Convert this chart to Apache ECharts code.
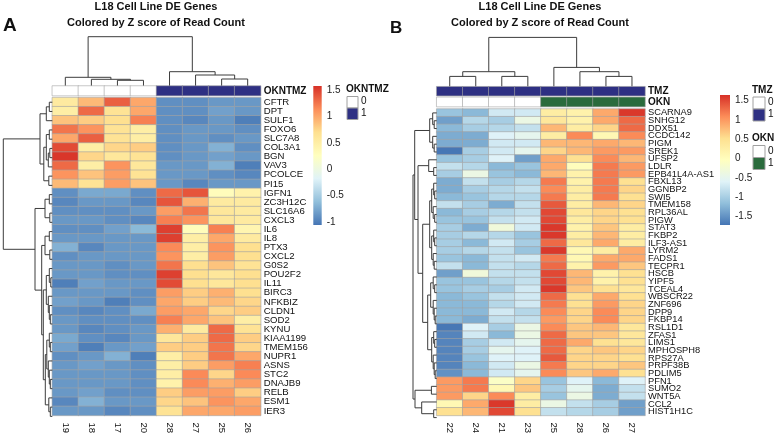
<!DOCTYPE html>
<html><head><meta charset="utf-8">
<script src="https://cdn.jsdelivr.net/npm/echarts@6/dist/echarts.min.js"></script>
<style>html,body{margin:0;padding:0;background:#fff}#c{width:775px;height:436px}</style>
</head><body><div id="c"></div>
<script>
const FONT = 'Liberation Sans, Arial, Helvetica, sans-serif';
const PALETTE = ['#4575B4','#91BFDB','#E0F3F8','#FFFFBF','#FEE090','#FC8D59','#D73027'];
const NAVY = '#2E3083';
const GREEN = '#2A6B3C';

// ---------------- Panel A ----------------
const colsA = ['19','18','17','20','28','27','25','26'];
const annotA_OKNTMZ = [0,0,0,0,1,1,1,1];
const genesA = ['CFTR','DPT','SULF1','FOXO6','SLC7A8','COL3A1','BGN','VAV3','PCOLCE','PI15',
  'IGFN1','ZC3H12C','SLC16A6','CXCL3','IL6','IL8','PTX3','CXCL2','G0S2','POU2F2','IL11',
  'BIRC3','NFKBIZ','CLDN1','SOD2','KYNU','KIAA1199','TMEM156','NUPR1','ASNS','STC2',
  'DNAJB9','RELB','ESM1','IER3'];
const zA = [
  [0.55,0.9,1.35,1.0,-0.9,-0.9,-0.85,-0.85],
  [0.5,1.3,0.65,1.0,-0.9,-0.9,-0.8,-0.85],
  [0.85,0.8,0.7,1.2,-0.9,-0.95,-0.85,-1.0],
  [1.25,1.1,0.65,0.5,-0.9,-0.85,-0.85,-0.9],
  [1.0,1.35,0.65,0.5,-0.9,-0.85,-0.9,-0.85],
  [1.45,0.5,0.75,0.8,-0.9,-0.85,-0.7,-0.9],
  [1.55,0.75,0.6,0.65,-0.9,-0.85,-0.8,-0.85],
  [1.3,0.5,1.1,0.6,-0.85,-0.85,-0.7,-1.0],
  [1.1,0.85,1.05,0.65,-0.85,-0.85,-0.9,-0.95],
  [0.9,0.65,1.05,0.85,-0.85,-0.95,-0.85,-0.85],
  [-0.9,-0.75,-0.75,-0.9,1.3,1.4,0.3,0.45],
  [-0.95,-0.85,-0.85,-0.95,1.4,0.95,0.55,0.55],
  [-0.9,-0.9,-0.9,-0.85,1.05,1.25,0.6,0.55],
  [-0.85,-0.85,-0.9,-0.95,1.2,1.1,0.6,0.55],
  [-0.9,-0.9,-0.8,-0.65,1.5,0.3,1.2,0.4],
  [-0.85,-0.85,-0.85,-0.85,1.5,0.5,1.0,0.55],
  [-0.7,-0.95,-0.85,-0.85,1.15,0.5,1.1,0.7],
  [-0.9,-0.85,-0.85,-0.85,1.1,0.5,1.05,0.7],
  [-0.85,-0.85,-0.9,-0.85,1.25,0.7,0.85,0.65],
  [-0.85,-0.85,-0.9,-0.9,1.5,0.7,0.6,0.7],
  [-1.0,-0.8,-0.85,-0.85,1.45,0.7,0.6,0.7],
  [-0.85,-0.85,-0.85,-0.9,1.05,0.8,0.95,0.7],
  [-0.8,-0.85,-1.0,-0.9,1.0,0.8,0.9,0.75],
  [-0.9,-0.95,-0.9,-0.75,1.05,1.0,0.75,0.8],
  [-0.85,-0.9,-0.9,-0.9,1.2,1.0,0.85,0.5],
  [-0.85,-0.95,-0.9,-0.85,0.95,0.55,1.3,0.65],
  [-0.75,-0.9,-0.95,-0.85,0.6,0.8,1.3,0.8],
  [-0.8,-1.0,-0.85,-0.8,0.8,0.8,1.25,0.75],
  [-0.9,-0.85,-0.7,-1.0,0.5,0.8,1.25,1.0],
  [-0.85,-0.8,-0.85,-0.9,0.5,0.8,1.05,1.2],
  [-0.85,-0.85,-0.85,-0.9,0.5,1.15,0.75,1.15],
  [-0.85,-0.85,-0.85,-0.9,0.45,1.15,0.95,1.05],
  [-0.85,-0.8,-0.9,-0.9,0.8,1.05,1.05,0.8],
  [-0.95,-0.7,-0.85,-0.85,0.75,0.85,1.1,1.0],
  [-0.85,-0.85,-0.95,-0.9,0.65,1.0,1.0,1.05]
];
const rangeA = [-1.057, 1.576];
const ticksA = [-1,-0.5,0,0.5,1,1.5];
// dendrograms: [left, right, height]; leaves = display index
const colTreeA = [[0,[1,[2,3,5.7],6.7],8.7],[4,[5,[6,7,7],11],14.3],49.3];
const rowTreeA = [
  [[[0,1,3],2,6],[[[3,4,3],[[5,6,2.5],7,4],6],[8,9,3.5],8.5],12.3],
  [[[10,11,3],[12,13,2.5],7.3],
   [[[14,15,3],[16,17,2.5],7.3],
    [[[18,[19,20,1.5],3],[21,[22,[23,24,2],3],4],6],
     [[[25,[26,27,2],3],[28,[29,[30,31,2],3],4],5.5],[32,[33,34,2],3.5],7],9],10.6],17.3],
  49];

// ---------------- Panel B ----------------
const colsB = ['22','24','21','23','25','28','26','27'];
const annotB_TMZ = [1,1,1,1,1,1,1,1];
const annotB_OKN = [0,0,0,0,1,1,1,1];
const genesB = ['SCARNA9','SNHG12','DDX51','CCDC142','PIGM','SREK1','UFSP2','LDLR','EPB41L4A-AS1',
  'FBXL13','GGNBP2','SWI5','TMEM158','RPL36AL','PIGW','STAT3','FKBP2','ILF3-AS1','LYRM2','FADS1',
  'TECPR1','HSCB','YIPF5','TCEAL4','WBSCR22','ZNF696','DPP9','FKBP14','RSL1D1','ZFAS1','LIMS1',
  'MPHOSPH8','RPS27A','PRPF38B','PDLIM5','PFN1','SUMO2','WNT5A','CCL2','HIST1H1C'];
const zB = [
  [-1.1,-1.2,-0.7,-0.7,0.3,0.2,0.9,1.6],
  [-1.4,-0.9,-1.0,-0.4,0.4,0.2,0.9,1.3],
  [-1.2,-1.0,-0.9,-0.8,0.8,0.3,0.6,1.3],
  [-1.3,-1.3,-0.6,-0.5,0.3,1.1,0.1,1.1],
  [-1.3,-1.3,-0.7,-0.7,0.8,0.8,0.9,0.8],
  [-1.7,-1.0,-0.7,-0.5,0.6,0.8,1.0,1.0],
  [-1.1,-1.0,-0.6,-1.4,0.9,0.5,1.1,0.8],
  [-0.8,-0.9,-1.2,-1.1,0.9,0.0,1.2,1.0],
  [-1.0,-0.4,-1.1,-1.2,0.8,0.2,1.2,1.0],
  [-1.3,-0.8,-1.0,-0.9,1.2,0.2,1.2,0.5],
  [-1.3,-1.0,-0.9,-0.8,1.1,0.3,1.2,0.6],
  [-1.2,-1.1,-0.9,-0.9,1.2,0.3,1.2,0.5],
  [-0.8,-1.0,-1.3,-0.8,1.4,0.3,0.8,0.6],
  [-1.2,-1.0,-0.9,-0.8,1.5,0.4,0.6,0.5],
  [-1.1,-1.1,-0.8,-0.7,1.5,0.3,0.6,0.5],
  [-1.0,-1.3,-0.3,-0.7,1.6,0.2,0.7,0.3],
  [-1.0,-0.9,-0.9,-1.1,1.6,0.3,0.8,0.3],
  [-1.0,-1.2,-0.7,-1.0,1.3,0.4,0.9,0.3],
  [-1.0,-0.9,-0.8,-1.1,1.6,0.1,0.3,0.9],
  [-1.1,-1.2,-0.8,-0.7,1.2,0.1,0.9,0.9],
  [-0.8,-1.2,-0.8,-0.9,1.3,0.2,1.0,0.7],
  [-1.4,-0.3,-0.8,-0.8,1.5,0.8,0.2,0.5],
  [-1.1,-1.1,-0.9,-0.8,1.5,0.8,0.2,0.5],
  [-1.1,-1.0,-1.0,-0.7,1.6,0.7,0.5,0.4],
  [-1.2,-1.1,-0.8,-0.7,1.3,0.5,0.9,0.5],
  [-1.2,-1.2,-0.9,-0.7,1.2,0.5,1.0,0.6],
  [-1.2,-1.2,-0.7,-0.9,1.1,0.6,1.1,0.6],
  [-1.2,-1.3,-0.8,-0.8,1.0,0.6,1.1,0.6],
  [-1.7,-0.6,-1.0,-0.4,1.1,0.7,0.8,0.4],
  [-1.6,-0.7,-1.2,-0.4,1.3,0.7,0.7,0.4],
  [-1.6,-1.0,-0.7,-0.5,1.3,0.9,0.5,0.4],
  [-1.6,-1.0,-0.5,-0.6,1.3,0.6,0.7,0.6],
  [-1.6,-1.1,-0.6,-0.6,1.4,0.6,0.6,0.5],
  [-1.6,-1.2,-0.7,-0.4,1.2,0.6,0.6,0.7],
  [-1.5,-1.2,-0.7,-0.5,1.1,0.7,0.9,0.5],
  [1.0,1.2,-0.1,0.6,-1.1,-0.6,-1.2,-0.6],
  [1.0,1.2,0.1,0.7,-1.0,-0.5,-1.3,-0.8],
  [1.0,0.6,1.1,0.3,-1.1,-0.4,-1.3,-0.8],
  [0.1,0.9,1.6,0.3,-0.4,-0.8,-1.0,-1.4],
  [0.5,0.8,1.5,0.5,-0.8,-0.9,-1.0,-1.4]
];
const rangeB = [-1.715, 1.647];
const ticksB = [-1.5,-1,-0.5,0,0.5,1,1.5];
const colTreeB = [[[0,1,10.3],[2,3,10.3],15],[4,[5,[6,7,10.3],15],19.3],49.3];
const rowTreeB = [
  [[[0,[1,2,2.5],4],[3,[4,5,2.5],4],7],
   [[6,[7,8,3],8],
    [[[[9,[10,11,2],3],[12,[13,14,2],3.5],5],[[15,[16,17,2],3],[18,[19,20,2.5],3.5],5],7],
     [[[21,[22,23,2],3.5],[24,[25,[26,27,1.5],2.5],3.5],6],[[28,[29,30,2],3],[31,[32,[33,34,1.5],2.5],3.5],5],9],14],18.7],22],
  [[35,36,5.3],[37,[38,39,3],15],21.7],23.7];

// ---------------- helpers ----------------
function flatten(tree){
  const segs = [];
  (function walk(n){
    if (typeof n === 'number') return {p:n+0.5, h:0};
    const L = walk(n[0]), R = walk(n[1]);
    segs.push([L.p, L.h, n[2], R.p, R.h]);
    return {p:(L.p+R.p)/2, h:n[2]};
  })(tree);
  return segs;
}
function heatData(z){ const d=[]; z.forEach((row,r)=>row.forEach((v,c)=>d.push([c,r,v]))); return d; }
function annData(a){ return a.map((v,c)=>[c,0,v]); }
function dendro(tree, ax, horizontal){
  return {type:'custom', xAxisIndex:ax, yAxisIndex:ax, silent:true, clip:false,
    data: flatten(tree),
    renderItem(params, api){
      const pL=api.value(0), hL=api.value(1), h=api.value(2), pR=api.value(3), hR=api.value(4);
      const pt = horizontal ? (p,hh)=>api.coord([hh,p]) : (p,hh)=>api.coord([p,hh]);
      return {type:'polyline', shape:{points:[pt(pL,hL),pt(pL,h),pt(pR,h),pt(pR,hR)]},
        style:{stroke:'#3c3c3c', lineWidth:1, fill:null}};
    }};
}
function cbar(ax, range){
  return {type:'custom', xAxisIndex:ax, yAxisIndex:ax, silent:true, data:[[0]],
    renderItem(params, api){
      const p0 = api.coord([0, range[0]]), p1 = api.coord([1, range[1]]);
      return {type:'rect', shape:{x:p0[0], y:p1[1], width:p1[0]-p0[0], height:p0[1]-p1[1]},
        style:{fill:new echarts.graphic.LinearGradient(0,1,0,0, PALETTE.map((c,i)=>({offset:i/6, color:c})))}};
    }};
}
const hid = (extra)=>Object.assign({show:false}, extra);
const cellStyle = {borderColor:'#a3a3a3', borderWidth:0.6};
const lbl = {fontFamily:FONT, fontSize:10, color:'#111'};

const grids = [
  {left:52.3, top:36.7, width:208.4, height:49.3},   //0 col dendro A
  {left:52.3, top:86, width:208.4, height:9.6},      //1 annot A
  {left:52.3, top:97.6, width:208.4, height:323.4},  //2 heat A
  {left:3.3, top:97.6, width:49, height:323.4},      //3 row dendro A
  {left:313.3, top:86, width:8.4, height:139},       //4 cbar A
  {left:436.7, top:36.7, width:208.3, height:50},    //5 col dendro B
  {left:436.7, top:86.7, width:208.3, height:9},     //6 TMZ
  {left:436.7, top:97.3, width:208.3, height:9.3},   //7 OKN
  {left:436.7, top:109, width:208.3, height:312.5},  //8 heat B
  {left:413, top:109, width:23.7, height:312.5},     //9 row dendro B
  {left:720, top:95, width:10, height:130}           //10 cbar B
];
const colLbl = Object.assign({rotate:-90, interval:0, margin:7}, lbl, {fontSize:9.5});
const xAxes = [
  hid({gridIndex:0, type:'value', min:0, max:8}),
  hid({gridIndex:1, type:'category', data:colsA}),
  {gridIndex:2, type:'category', data:colsA, position:'bottom', axisLine:{show:false}, axisTick:{show:false}, axisLabel:colLbl},
  hid({gridIndex:3, type:'value', min:0, max:49, inverse:true}),
  hid({gridIndex:4, type:'value', min:0, max:1}),
  hid({gridIndex:5, type:'value', min:0, max:8}),
  hid({gridIndex:6, type:'category', data:colsB}),
  hid({gridIndex:7, type:'category', data:colsB}),
  {gridIndex:8, type:'category', data:colsB, position:'bottom', axisLine:{show:false}, axisTick:{show:false}, axisLabel:colLbl},
  hid({gridIndex:9, type:'value', min:0, max:23.7, inverse:true}),
  hid({gridIndex:10, type:'value', min:0, max:1})
];
const catY = (gi, data, bold, inverse, fs)=>({gridIndex:gi, type:'category', data, inverse:!!inverse, position:'right',
  axisLine:{show:false}, axisTick:{show:false}, splitLine:{show:false},
  axisLabel:Object.assign({interval:0, margin:3, fontWeight: bold?'bold':'normal'}, lbl, {fontSize:fs||10})});
const cbY = (gi, range, ticks)=>({gridIndex:gi, type:'value', min:range[0], max:range[1], position:'right',
  axisLine:{show:false}, axisTick:{show:false}, splitLine:{show:false},
  axisLabel:Object.assign({customValues:ticks, margin:5}, lbl, {color:'#222'})});
const yAxes = [
  hid({gridIndex:0, type:'value', min:0, max:49.3}),
  catY(1, ['OKNTMZ'], true, false, 10),
  catY(2, genesA, false, true, 9.6),
  hid({gridIndex:3, type:'value', min:0, max:genesA.length, inverse:true}),
  cbY(4, rangeA, ticksA),
  hid({gridIndex:5, type:'value', min:0, max:50}),
  catY(6, ['TMZ'], true, false, 10),
  catY(7, ['OKN'], true, false, 10),
  catY(8, genesB, false, true, 9.3),
  hid({gridIndex:9, type:'value', min:0, max:genesB.length, inverse:true}),
  cbY(10, rangeB, ticksB)
];
const heat = (ax, data)=>({type:'heatmap', xAxisIndex:ax, yAxisIndex:ax, data, itemStyle:cellStyle,
  emphasis:{disabled:true}, silent:true, progressive:0});
const series = [
  dendro(colTreeA, 0, false),            //0
  heat(1, annData(annotA_OKNTMZ)),       //1
  heat(2, heatData(zA)),                 //2
  dendro(rowTreeA, 3, true),             //3
  cbar(4, rangeA),                       //4
  dendro(colTreeB, 5, false),            //5
  heat(6, annData(annotB_TMZ)),          //6
  heat(7, annData(annotB_OKN)),          //7
  heat(8, heatData(zB)),                 //8
  dendro(rowTreeB, 9, true),             //9
  cbar(10, rangeB)                       //10
];
const titleStyle = {fontFamily:FONT, fontSize:11, fontWeight:'bold', color:'#111', lineHeight:16};
const legendText = (x,y,t,bold)=>({type:'text', left:x, top:y, style:{text:t, fontFamily:FONT, fontSize:10, fontWeight:bold?'bold':'normal', fill:'#111'}});
const legendBox = (x,y,w,h,c)=>({type:'rect', left:x, top:y, shape:{width:w, height:h}, style:{fill:c, stroke:'#a0a0a0', lineWidth:1}});

const option = {
  animation:false, backgroundColor:'#fff',
  title:[
    {text:'L18 Cell Line DE Genes\nColored by Z score of Read Count', left:156, top:-1, textAlign:'center', padding:0, textStyle:titleStyle},
    {text:'L18 Cell Line DE Genes\nColored by Z score of Read Count', left:540, top:-1, textAlign:'center', padding:0, textStyle:titleStyle},
    {text:'A', left:3, top:16, padding:0, textStyle:{fontFamily:FONT, fontSize:19, fontWeight:'bold', color:'#111'}},
    {text:'B', left:390, top:20, padding:0, textStyle:{fontFamily:FONT, fontSize:17, fontWeight:'bold', color:'#111'}}
  ],
  grid:grids, xAxis:xAxes, yAxis:yAxes,
  visualMap:[
    {type:'continuous', show:false, seriesIndex:2, dimension:2, min:rangeA[0], max:rangeA[1], inRange:{color:PALETTE}},
    {type:'continuous', show:false, seriesIndex:8, dimension:2, min:rangeB[0], max:rangeB[1], inRange:{color:PALETTE}},
    {type:'piecewise', show:false, seriesIndex:[1,6], dimension:2, pieces:[{value:0, color:'#ffffff'},{value:1, color:NAVY}]},
    {type:'piecewise', show:false, seriesIndex:7, dimension:2, pieces:[{value:0, color:'#ffffff'},{value:1, color:GREEN}]}
  ],
  graphic:[
    legendText(346, 84, 'OKNTMZ', true),
    legendBox(346.5, 96, 11, 11.5, '#ffffff'),
    legendBox(346.5, 107.5, 11, 11.5, NAVY),
    legendText(361, 96.5, '0'),
    legendText(361, 108, '1'),
    legendText(752, 85, 'TMZ', true),
    legendBox(752.5, 96.5, 12, 12, '#ffffff'),
    legendBox(752.5, 108.5, 12, 12, NAVY),
    legendText(768, 97.5, '0'),
    legendText(768, 109.5, '1'),
    legendText(752, 133, 'OKN', true),
    legendBox(752.5, 145, 12, 12, '#ffffff'),
    legendBox(752.5, 157, 12, 12, GREEN),
    legendText(768, 146, '0'),
    legendText(768, 158, '1')
  ],
  series
};
const chart = echarts.init(document.getElementById('c'), null, {renderer:'canvas'});
chart.setOption(option);
</script></body></html>
